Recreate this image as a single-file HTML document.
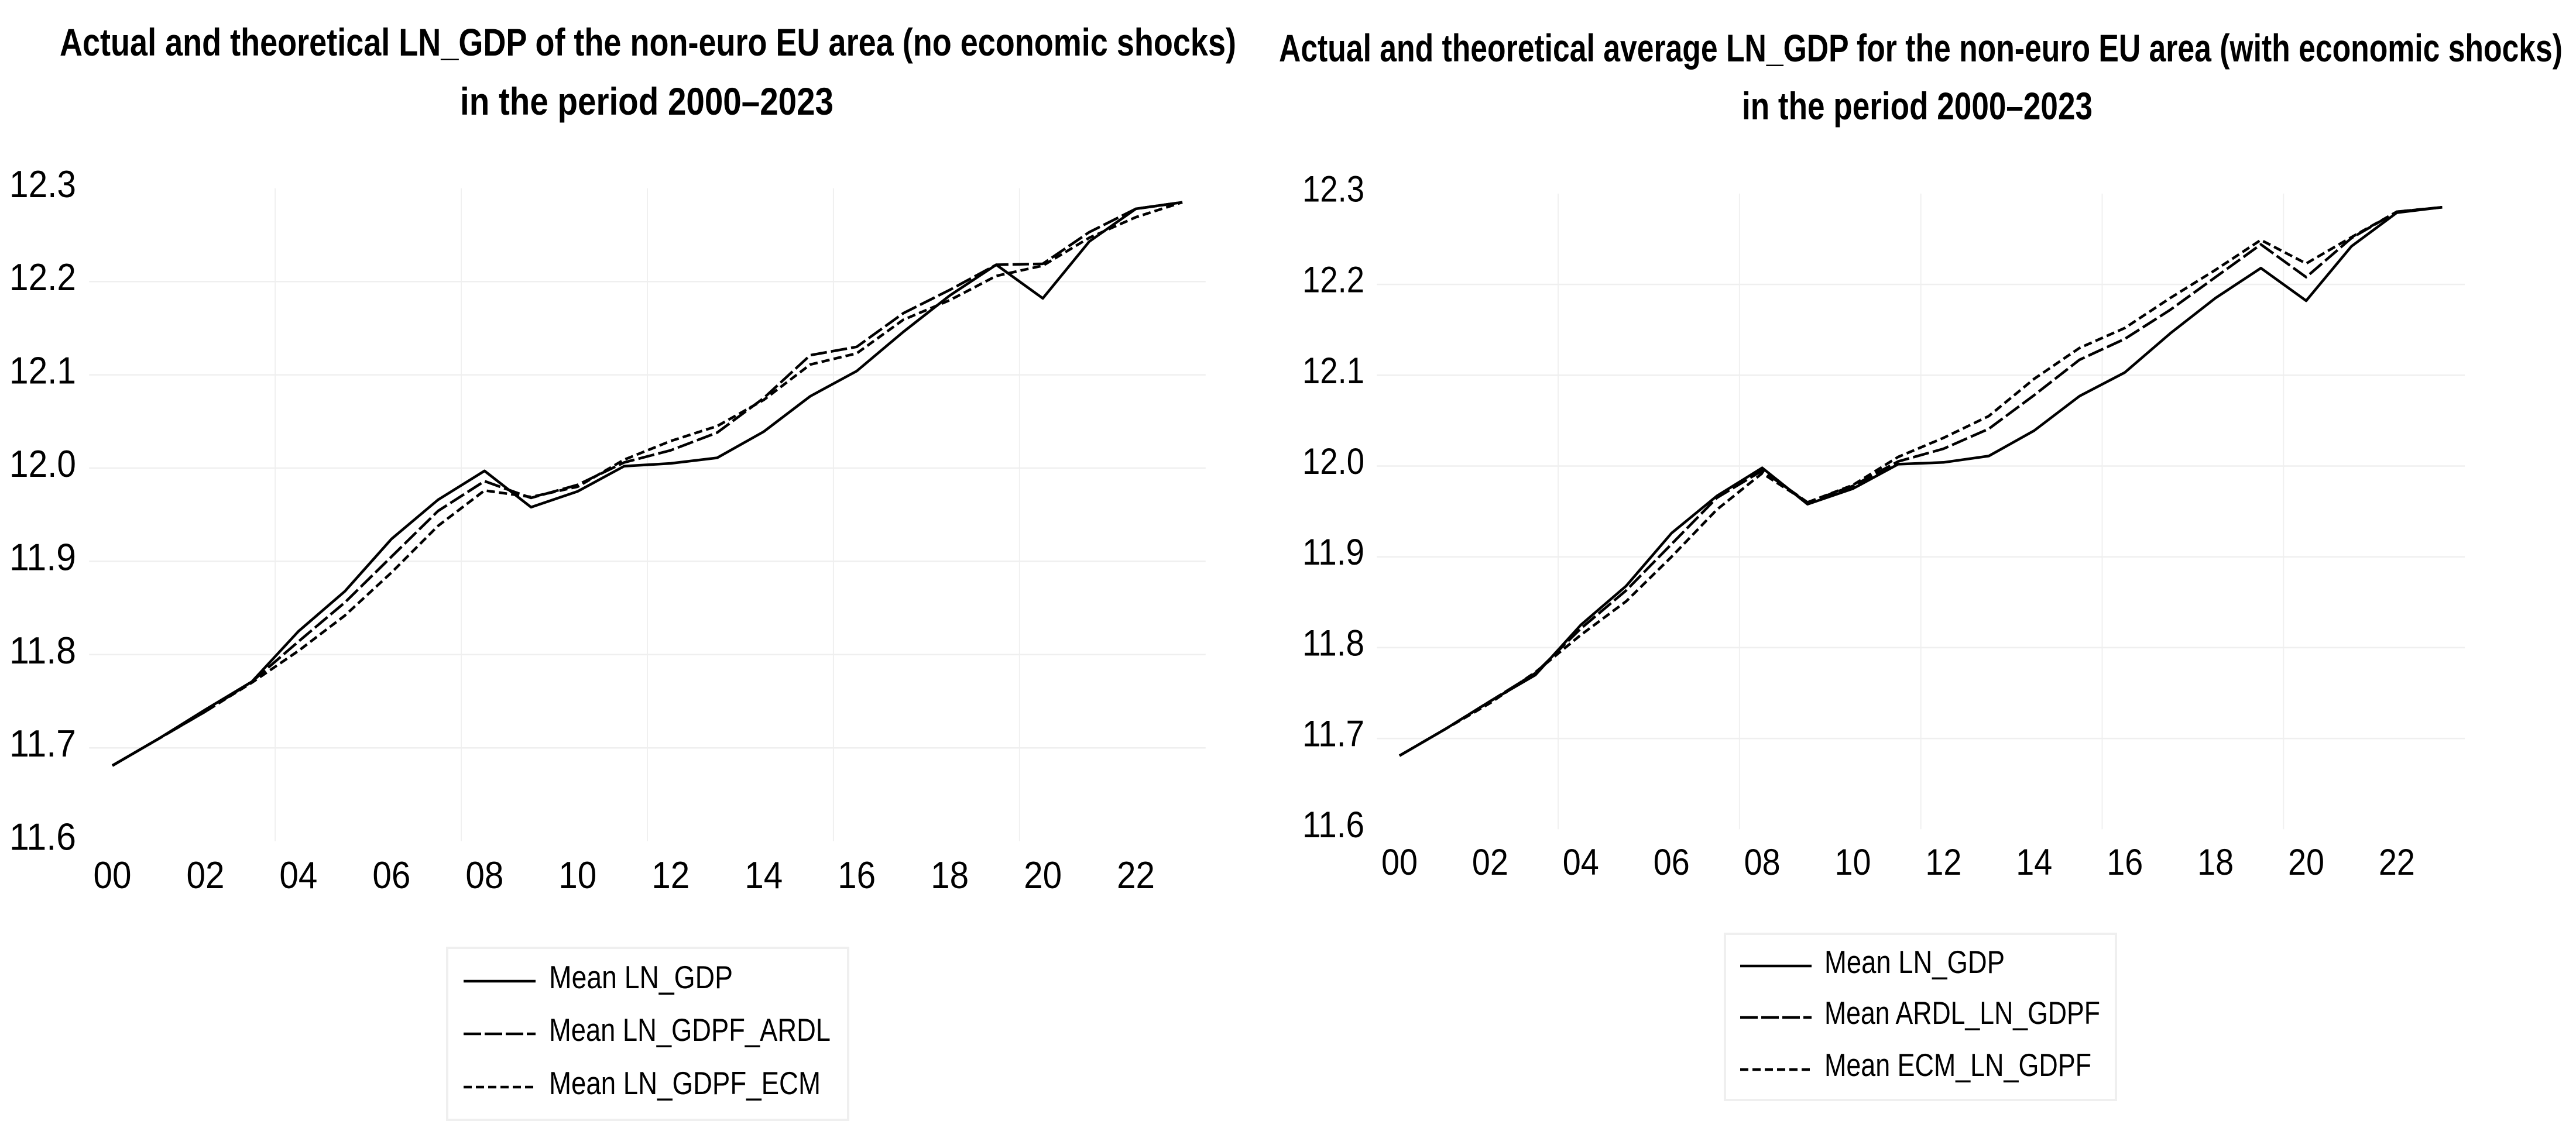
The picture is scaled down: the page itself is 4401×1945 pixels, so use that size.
<!DOCTYPE html>
<html lang="en">
<head>
<meta charset="utf-8">
<title>Actual and theoretical LN_GDP of the non-euro EU area</title>
<style>
html,body{margin:0;padding:0;background:#fff;width:4401px;height:1945px;overflow:hidden}
svg{display:block}
text{font-family:"Liberation Sans",sans-serif;fill:#000}
.title{font-weight:bold;font-size:66px}
.legend-text{font-size:55px}
</style>
</head>
<body>
<svg id="figure" xmlns="http://www.w3.org/2000/svg" width="4401" height="1945" viewBox="0 0 4401 1945">
  <rect x="0" y="0" width="4401" height="1945" fill="#fff"/>

  <g id="left-chart">
    <text class="title" x="102" y="95" textLength="2010" lengthAdjust="spacingAndGlyphs">Actual and theoretical LN_GDP of the non-euro EU area (no economic shocks)</text>
    <text class="title" x="786" y="196" textLength="638" lengthAdjust="spacingAndGlyphs">in the period 2000–2023</text>
  </g>
  <g id="right-chart">
    <text class="title" x="2185" y="105" textLength="2193" lengthAdjust="spacingAndGlyphs">Actual and theoretical average LN_GDP for the non-euro EU area (with economic shocks)</text>
    <text class="title" x="2976" y="204" textLength="599" lengthAdjust="spacingAndGlyphs">in the period 2000–2023</text>
  </g>

  <g>
    <rect x="764" y="1620" width="685" height="294" fill="#fff" stroke="#efefef" stroke-width="4"/>
    <line x1="792" x2="915" y1="1677" y2="1677" stroke="#000" stroke-width="4.5"/>
    <line x1="792" x2="915" y1="1767" y2="1767" stroke="#000" stroke-width="4.5" stroke-dasharray="30 6"/>
    <line x1="792" x2="915" y1="1858" y2="1858" stroke="#000" stroke-width="4.5" stroke-dasharray="14 7"/>
    <text class="legend-text" x="938" y="1689" textLength="314" lengthAdjust="spacingAndGlyphs">Mean LN_GDP</text>
    <text class="legend-text" x="938" y="1779" textLength="481" lengthAdjust="spacingAndGlyphs">Mean LN_GDPF_ARDL</text>
    <text class="legend-text" x="938" y="1870" textLength="464" lengthAdjust="spacingAndGlyphs">Mean LN_GDPF_ECM</text>
  </g>

  <g>
    <rect x="2947" y="1596" width="668" height="284" fill="#fff" stroke="#efefef" stroke-width="4"/>
    <line x1="2973" x2="3095" y1="1651" y2="1651" stroke="#000" stroke-width="4.5"/>
    <line x1="2973" x2="3095" y1="1739" y2="1739" stroke="#000" stroke-width="4.5" stroke-dasharray="30 6"/>
    <line x1="2973" x2="3095" y1="1828" y2="1828" stroke="#000" stroke-width="4.5" stroke-dasharray="14 7"/>
    <text class="legend-text" x="3117" y="1663" textLength="308" lengthAdjust="spacingAndGlyphs">Mean LN_GDP</text>
    <text class="legend-text" x="3117" y="1750" textLength="471" lengthAdjust="spacingAndGlyphs">Mean ARDL_LN_GDPF</text>
    <text class="legend-text" x="3117" y="1839" textLength="456" lengthAdjust="spacingAndGlyphs">Mean ECM_LN_GDPF</text>
  </g>
</svg>
<script>
// Categories and tick labels
var categories = ["00","01","02","03","04","05","06","07","08","09","10","11","12","13","14","15","16","17","18","19","20","21","22","23"];
var yTickValues = [11.6, 11.7, 11.8, 11.9, 12.0, 12.1, 12.2, 12.3];
var yTickLabels = ["11.6", "11.7", "11.8", "11.9", "12.0", "12.1", "12.2", "12.3"];

// Left chart series (no economic shocks)
var leftActual = [11.681,11.710,11.741,11.771,11.825,11.868,11.924,11.966,11.997,11.958,11.975,12.002,12.005,12.011,12.039,12.077,12.104,12.146,12.185,12.218,12.182,12.243,12.278,12.285];
var leftArdl = [11.681,11.710,11.739,11.771,11.814,11.856,11.905,11.954,11.986,11.968,11.982,12.006,12.019,12.038,12.075,12.121,12.130,12.166,12.191,12.218,12.219,12.253,12.278,12.285];
var leftEcm = [11.681,11.710,11.739,11.770,11.804,11.842,11.888,11.938,11.976,11.969,11.980,12.009,12.029,12.045,12.073,12.111,12.123,12.159,12.180,12.206,12.217,12.247,12.269,12.285];

// Right chart series (with economic shocks)
var rightActual = [11.681,11.710,11.741,11.770,11.825,11.868,11.926,11.967,11.998,11.958,11.975,12.002,12.004,12.011,12.039,12.077,12.103,12.146,12.185,12.218,12.182,12.242,12.279,12.285];
var rightArdl = [11.681,11.710,11.741,11.772,11.821,11.863,11.914,11.965,11.995,11.960,11.978,12.005,12.019,12.041,12.078,12.117,12.140,12.172,12.208,12.244,12.208,12.251,12.280,12.285];
var rightEcm = [11.681,11.710,11.739,11.773,11.814,11.851,11.900,11.952,11.992,11.960,11.979,12.010,12.031,12.055,12.096,12.130,12.152,12.185,12.216,12.249,12.223,12.252,12.280,12.285];

var SVG_NS = "http://www.w3.org/2000/svg";

function makeEl(tag, attrs, parent) {
  var el = document.createElementNS(SVG_NS, tag);
  for (var key in attrs) { el.setAttribute(key, attrs[key]); }
  parent.appendChild(el);
  return el;
}

function makeAxes(x0, step, y12, perUnit) {
  return {
    x: function (i) { return x0 + i * step; },
    y: function (v) { return y12 - (v - 12) * perUnit; },
    step: step
  };
}

function drawChart(parent, prefix, axes, series, style) {
  var bottom = axes.y(yTickValues[0]);
  var top = axes.y(yTickValues[yTickValues.length - 1]);
  var left = axes.x(0) - axes.step / 2;
  var right = axes.x(categories.length - 1) + axes.step / 2;

  // Vertical gridlines sit between categories, every fourth category
  for (var c = 4; c < categories.length; c += 4) {
    var gx = axes.x(c) - axes.step / 2;
    var vLine = makeEl("line", {x1: gx, x2: gx, y1: top, y2: bottom, stroke: "#f0f0f0", "stroke-width": 2}, parent);
    
    
  }

  // Horizontal gridlines at the inner ticks; all y tick labels
  yTickValues.forEach(function (v, idx) {
    var gy = axes.y(v);
    if (idx > 0 && idx < yTickValues.length - 1) {
      var hLine = makeEl("line", {x1: left, x2: right, y1: gy, y2: gy, stroke: "#efefef", "stroke-width": 2.5}, parent);
      
      
    }
    var yLabel = makeEl("text", {
      x: style.yLabelX, y: gy + style.yLabelDy,
      "font-size": style.tickFont, textLength: style.yLabelWidth, lengthAdjust: "spacingAndGlyphs"
    }, parent);
    
    
    yLabel.textContent = yTickLabels[idx];
  });

  // X tick labels on every second category
  categories.forEach(function (cat, i) {
    if (i % 2 !== 0) { return; }
    var xLabel = makeEl("text", {
      x: axes.x(i) - style.xLabelWidth / 2, y: style.xLabelY,
      "font-size": style.tickFont, textLength: style.xLabelWidth, lengthAdjust: "spacingAndGlyphs"
    }, parent);
    
    
    xLabel.textContent = cat;
  });

  function linePoints(values) {
    return values.map(function (v, i) {
      return axes.x(i).toFixed(1) + "," + axes.y(v).toFixed(1);
    }).join(" ");
  }

  var ecmLine = makeEl("polyline", {points: linePoints(series.ecm), fill: "none", stroke: "#000", "stroke-width": 4.5, "stroke-dasharray": "14 7", "stroke-linejoin": "round"}, parent);
  
  

  var ardlLine = makeEl("polyline", {points: linePoints(series.ardl), fill: "none", stroke: "#000", "stroke-width": 4.5, "stroke-dasharray": "28 7", "stroke-linejoin": "round"}, parent);
  
  

  var actualLine = makeEl("polyline", {points: linePoints(series.actual), fill: "none", stroke: "#000", "stroke-width": 4.5, "stroke-linejoin": "round"}, parent);
  
  
}

drawChart(
  document.getElementById("left-chart"), "left",
  makeAxes(192, 79.48, 800, 1594),
  {actual: leftActual, ardl: leftArdl, ecm: leftEcm},
  {tickFont: 65, yLabelX: 16, yLabelDy: 15, yLabelWidth: 114, xLabelWidth: 65, xLabelY: 1518}
);

drawChart(
  document.getElementById("right-chart"), "right",
  makeAxes(2391, 77.45, 796.5, 1552),
  {actual: rightActual, ardl: rightArdl, ecm: rightEcm},
  {tickFont: 63, yLabelX: 2225, yLabelDy: 13.5, yLabelWidth: 106, xLabelWidth: 62, xLabelY: 1495}
);
</script>
</body>
</html>
